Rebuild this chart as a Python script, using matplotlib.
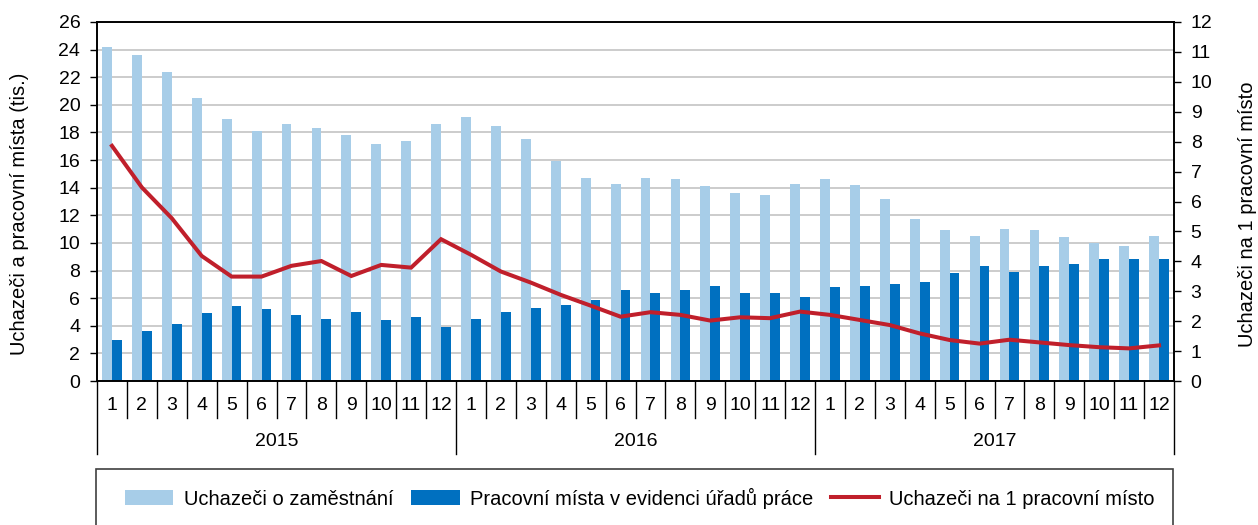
import matplotlib.pyplot as plt
import matplotlib.transforms as mtransforms
from matplotlib.lines import Line2D
from matplotlib.patches import Patch, Rectangle

plt.rcParams['font.family'] = ['Liberation Sans', 'DejaVu Sans']

# data
years = ['2015', '2016', '2017']
months = [str(m) for m in range(1, 13)]

uchazeci = [24.2, 23.6, 22.4, 20.5, 19.0, 18.1, 18.6, 18.3, 17.8, 17.2, 17.4, 18.6,
            19.1, 18.5, 17.5, 15.9, 14.7, 14.3, 14.7, 14.6, 14.1, 13.6, 13.5, 14.3,
            14.6, 14.2, 13.2, 11.7, 10.9, 10.5, 11.0, 10.9, 10.4, 10.0, 9.8, 10.5]
mista = [3.0, 3.6, 4.1, 4.9, 5.4, 5.2, 4.8, 4.5, 5.0, 4.4, 4.6, 3.9,
         4.5, 5.0, 5.3, 5.5, 5.9, 6.6, 6.4, 6.6, 6.9, 6.4, 6.4, 6.1,
         6.8, 6.9, 7.0, 7.2, 7.8, 8.3, 7.9, 8.3, 8.5, 8.8, 8.8, 8.8]
na_misto = [7.86, 6.47, 5.44, 4.18, 3.49, 3.49, 3.85, 4.01, 3.51, 3.88, 3.79, 4.74,
            4.22, 3.66, 3.29, 2.88, 2.52, 2.15, 2.30, 2.21, 2.02, 2.13, 2.10, 2.32,
            2.21, 2.04, 1.87, 1.59, 1.37, 1.25, 1.38, 1.29, 1.20, 1.13, 1.09, 1.19]

LIGHT = '#a7cde8'
DARK = '#0070c0'
RED = '#c01f2b'
FS = 14

W, H = 1258, 525
fig = plt.figure(figsize=(W / 100, H / 100), dpi=100)
ax = fig.add_axes([97 / W, 1 - 381 / H, (1174 - 97) / W, (381 - 22) / H])
ax2 = ax.twinx()

n = len(uchazeci)
x = list(range(n))
w = 0.33
ax.bar([i - w / 2 for i in x], uchazeci, width=w, color=LIGHT, zorder=2)
ax.bar([i + w / 2 for i in x], mista, width=w, color=DARK, zorder=2)
ax2.plot(x, na_misto, color=RED, linewidth=2.9, solid_joinstyle='miter')

ax.set_xlim(-0.5, n - 0.5)
ax.set_ylim(0, 26)
ax.set_yticks(range(0, 27, 2))
ax2.set_ylim(0, 12)
ax2.set_yticks(range(0, 13))
ax.yaxis.grid(True, color='#c8c8c8', linewidth=1.3)
ax.set_axisbelow(True)

for a in (ax, ax2):
    for s in a.spines.values():
        s.set_color('black')
        s.set_linewidth(1.2)
    a.tick_params(axis='y', labelsize=FS, length=5, width=1, pad=7)

ax_w = 1174 - 97
ax.set_ylabel('Uchazeči a pracovní místa (tis.)', fontsize=14.5)
ax2.set_ylabel('Uchazeči na 1 pracovní místo', fontsize=14.5)
ax.yaxis.set_label_coords((29 - 97) / ax_w, 0.465)
ax2.yaxis.set_label_coords((1238 - 97) / ax_w, 0.465)

# two-level category axis: months and years
ax.set_xticks([])
trans = mtransforms.blended_transform_factory(ax.transData, ax.transAxes)
h_ax = 381 - 22
month_row = 37 / h_ax
year_row = 73 / h_ax
for i in range(n + 1):
    b = i - 0.5
    depth = year_row if i % 12 == 0 else month_row
    ax.add_line(Line2D([b, b], [0, -depth], transform=trans, color='black',
                       linewidth=1.0, clip_on=False))
for i in x:
    ax.text(i, -24 / h_ax, months[i % 12], transform=trans, ha='center',
            va='center', fontsize=FS)
for k, yr in enumerate(years):
    ax.text(k * 12 + 5.5, -61 / h_ax, yr, transform=trans,
            ha='center', va='center', fontsize=FS)

# legend box spans the plot width and runs off the bottom edge
fig.patches.append(Rectangle((96 / W, -0.02), (1173 - 96) / W, 1 - 469 / H + 0.02,
                             transform=fig.transFigure, facecolor='none',
                             edgecolor='#404040', linewidth=1.2))
handles = [Patch(facecolor=LIGHT, edgecolor='none'),
           Patch(facecolor=DARK, edgecolor='none'),
           Line2D([], [], color=RED, linewidth=2.9)]
labels = ['Uchazeči o zaměstnání', 'Pracovní místa v evidenci úřadů práce',
          'Uchazeči na 1 pracovní místo']
fig.legend(handles, labels, loc='center', ncol=3,
           bbox_to_anchor=(640 / W, 1 - 498 / H), bbox_transform=fig.transFigure,
           fontsize=14.5, frameon=False, borderaxespad=0, borderpad=0,
           handlelength=2.4, handletextpad=0.5, columnspacing=0.9)

fig.savefig('out.png', dpi=100)
